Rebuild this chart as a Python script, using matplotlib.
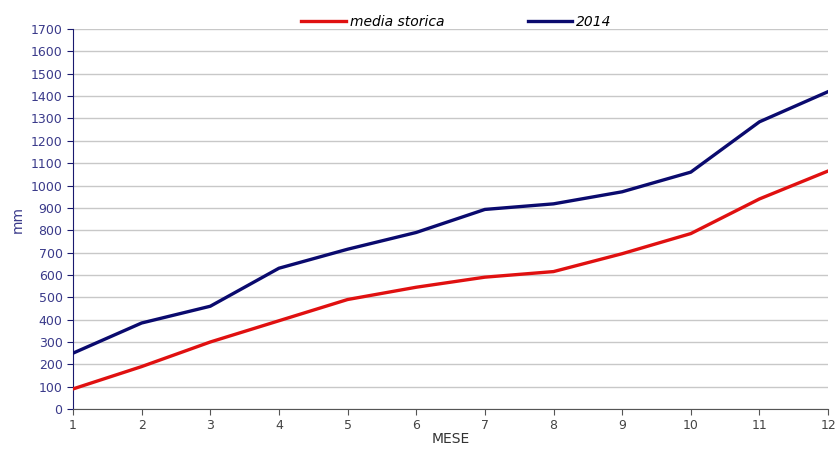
import matplotlib.pyplot as plt

mesi = list(range(1, 13))
media_storica = [90, 190, 300, 395, 490, 545, 590, 615, 695, 785, 940, 1065]
anno_2014 = [250, 385, 460, 630, 715, 790, 893, 918, 972, 1060, 1285, 1420]
y_ticks = list(range(0, 1701, 100))

fig = plt.figure(figsize=(8.39, 4.54), dpi=100)
ax = fig.add_axes([0.087, 0.099, 0.9, 0.837])

ax.plot(mesi, media_storica, color="#e01010", linewidth=2.4, label="media storica", zorder=3)
ax.plot(mesi, anno_2014, color="#0a0a6e", linewidth=2.4, label="2014", zorder=3)

ax.set_xlim(1, 12)
ax.set_ylim(0, 1700)
ax.set_xticks(mesi)
ax.set_yticks(y_ticks)
ax.yaxis.grid(True, color="#c8c8c8", linewidth=1)
ax.set_axisbelow(True)

for s in ["top", "right"]:
    ax.spines[s].set_visible(False)
ax.spines["left"].set_color("#1a1a6e")
ax.spines["bottom"].set_color("#555555")
ax.tick_params(axis="y", colors="#1a1a6e", labelcolor="#3a3a8a", labelsize=9, length=4)
ax.tick_params(axis="x", colors="#555555", labelcolor="#444444", labelsize=9, length=4)

ax.set_ylabel("mm", color="#3a3a8a", fontsize=10, labelpad=4)
ax.set_xlabel("MESE", color="#333333", fontsize=10, labelpad=0)

# legenda in alto, senza cornice
ax.legend(loc="lower center", bbox_to_anchor=(0.508, 0.985), ncol=2, frameon=False,
          prop={"style": "italic", "size": 10}, handlelength=3.2, handletextpad=0.3,
          columnspacing=6, borderaxespad=0)

fig.savefig("out.png", dpi=100)
